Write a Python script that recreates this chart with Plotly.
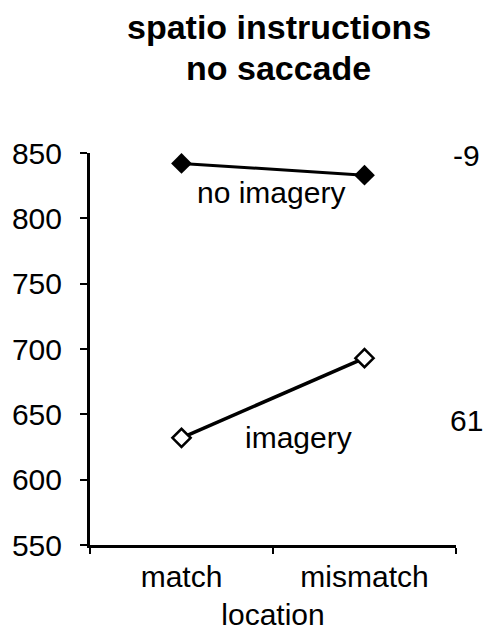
import plotly.graph_objects as go

# Mean response times (ms) by cue location
locations = ["match", "mismatch"]
no_imagery = [842, 833]
imagery = [632, 693]
y_ticks = [550, 600, 650, 700, 750, 800, 850]

FONT = "Liberation Sans, Arial, sans-serif"

W, H = 488, 638
L, R, T, B = 88, 32, 153, 90
pw, ph = W - L - R, H - T - B

fig = go.Figure()

fig.add_trace(go.Scatter(
    x=locations, y=no_imagery, mode="lines+markers",
    line=dict(color="black", width=3),
    marker=dict(symbol="diamond", size=16, color="black"),
    showlegend=False, cliponaxis=False,
))
fig.add_trace(go.Scatter(
    x=locations, y=imagery, mode="lines+markers",
    line=dict(color="black", width=3.5),
    marker=dict(symbol="diamond", size=14, color="white",
                line=dict(color="black", width=2.5)),
    showlegend=False, cliponaxis=False,
))

# Series labels
fig.add_annotation(x=0.49, y=820, xref="x", yref="y", text="no imagery",
                   showarrow=False, font=dict(family=FONT, size=30, color="black"))
fig.add_annotation(x=0.64, y=632, xref="x", yref="y", text="imagery",
                   showarrow=False, font=dict(family=FONT, size=30, color="black"))

# Mismatch minus match differences
diff_no = no_imagery[1] - no_imagery[0]
diff_im = imagery[1] - imagery[0]
fig.add_annotation(x=1.03, y=848, xref="paper", yref="y", text=str(diff_no),
                   showarrow=False, xanchor="center",
                   font=dict(family=FONT, size=30, color="black"))
fig.add_annotation(x=1.03, y=645, xref="paper", yref="y", text=str(diff_im),
                   showarrow=False, xanchor="center",
                   font=dict(family=FONT, size=30, color="black"))


def px_to_paper(px, py):
    return (px - L) / pw, (H - B - py) / ph


# Two-line title, placed by pixel position of each line's baseline
for text, base_y in [("<b>spatio instructions</b>", 39), ("<b>no saccade</b>", 80)]:
    xp, yp = px_to_paper(278, base_y)
    fig.add_annotation(x=xp, y=yp, xref="paper", yref="paper", text=text,
                       showarrow=False, yanchor="bottom", yshift=-8,
                       font=dict(family=FONT, size=34, color="black"))

fig.update_layout(
    width=W, height=H,
    margin=dict(l=L, r=R, t=T, b=B),
    paper_bgcolor="white", plot_bgcolor="white",
    font=dict(family=FONT, size=30, color="black"),
    xaxis=dict(
        type="category", categoryorder="array", categoryarray=locations,
        range=[-0.5, 1.5], tickson="boundaries",
        showline=True, linecolor="black", linewidth=3,
        ticks="outside", ticklen=6, tickwidth=2, tickcolor="black",
        showgrid=False, zeroline=False, ticklabelstandoff=3,
        tickfont=dict(family=FONT, size=30, color="black"),
        title=dict(text="location", font=dict(family=FONT, size=30, color="black"), standoff=12),
    ),
    yaxis=dict(
        range=[550, 850], tickvals=y_ticks, ticktext=[str(v) for v in y_ticks],
        showline=True, linecolor="black", linewidth=3,
        ticks="outside", ticklen=7, tickwidth=2, tickcolor="black",
        showgrid=False, zeroline=False, ticklabelstandoff=12,
        tickfont=dict(family=FONT, size=30, color="black"),
    ),
)

fig.write_html("out.html")
